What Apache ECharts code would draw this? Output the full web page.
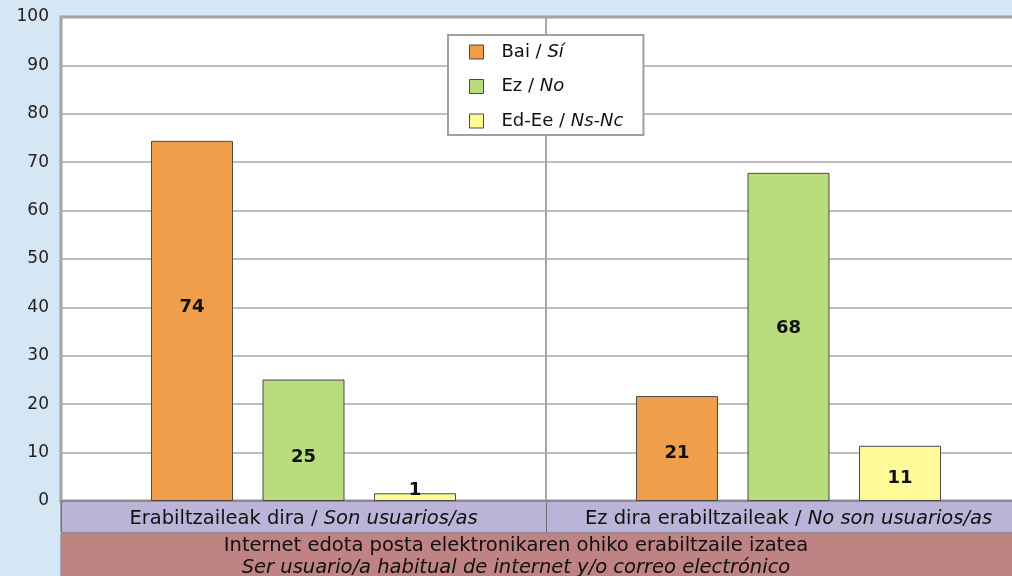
<!DOCTYPE html>
<html>
<head>
    <meta charset="utf-8">
    <title>ECharts</title>
    <script src="https://cdn.jsdelivr.net/npm/echarts@6/dist/echarts.min.js"></script>
    <style>
        body { margin: 0; background: #d5e6f5; }
    </style>
</head>
<body>
    <div id="main" style="width: 1012px;height:576px;"></div>
    <script type="text/javascript">
        // datos
        var catEu = ['Erabiltzaileak dira / ', 'Ez dira erabiltzaileak / '];
        var catEs = ['Son usuarios/as', 'No son usuarios/as'];
        var groupEu = 'Internet edota posta elektronikaren ohiko erabiltzaile izatea';
        var groupEs = 'Ser usuario/a habitual de internet y/o correo electrónico';
        var seriesEu = ['Bai / ', 'Ez / ', 'Ed-Ee / '];
        var seriesEs = ['Sí', 'No', 'Ns-Nc'];
        var baiValues = [74.4, 21.7];
        var ezValues = [25.1, 67.8];
        var edValues = [1.6, 11.4];
        var baiLabels = [74, 21];
        var ezLabels = [25, 68];
        var edLabels = [1, 11];
        var yTicks = [0, 100, 10];

        var colors = ['#f09e4a', '#b8dc7e', '#fffb99'];
        var font = 'DejaVu Sans, Arial, sans-serif';
        // las etiquetas no van centradas del todo en el original
        var nudge = [[-14, 5], [17, -9], [-7, 5]];

        var myChart = echarts.init(document.getElementById('main'));

        function barSeries(i, values, labels) {
            return {
                name: seriesEu[i] + seriesEs[i],
                type: 'bar',
                xAxisIndex: 0,
                yAxisIndex: 0,
                barWidth: 82,
                barGap: '36%',
                data: values.map(function (v, k) {
                    return { value: v, label: { offset: [0, nudge[i][k]] } };
                }),
                itemStyle: { color: colors[i], borderColor: '#4a4a4a', borderWidth: 1 },
                label: {
                    show: true,
                    position: 'inside',
                    color: '#111',
                    fontWeight: 'bold',
                    fontSize: 18,
                    fontFamily: font,
                    formatter: function (p) { return labels[p.dataIndex]; }
                }
            };
        }

        var option = {
            backgroundColor: '#d5e6f5',
            animation: false,
            legend: {
                orient: 'vertical',
                left: 448,
                top: 35,
                padding: [8, 20, 5, 21],
                itemGap: 16.5,
                itemWidth: 14,
                itemHeight: 14,
                icon: 'rect',
                backgroundColor: '#fff',
                borderColor: '#a0a0a0',
                borderWidth: 2,
                borderRadius: 0,
                data: seriesEu.map(function (s, i) {
                    return { name: s + seriesEs[i], itemStyle: { borderColor: '#4a4a4a', borderWidth: 1 } };
                }),
                formatter: function (name) {
                    var i = seriesEu.findIndex(function (s, k) { return s + seriesEs[k] === name; });
                    return '{n|' + seriesEu[i] + '}{i|' + seriesEs[i] + '}';
                },
                textStyle: {
                    padding: [0, 0, 0, 13],
                    rich: {
                        n: { fontSize: 18, fontFamily: font, color: '#111' },
                        i: { fontSize: 18, fontFamily: font, fontStyle: 'italic', color: '#111' }
                    }
                }
            },
            grid: [
                { left: 61, top: 17, width: 970, height: 484, outerBoundsMode: 'none', show: true, backgroundColor: '#fff', borderColor: '#9a9a9a', borderWidth: 3 },
                { left: 61, top: 502, width: 970, height: 30, outerBoundsMode: 'none', show: true, borderColor: '#6e6e6e', borderWidth: 1 },
                { left: 61, top: 533, width: 970, height: 44, outerBoundsMode: 'none', show: true, borderColor: '#6e6e6e', borderWidth: 1 }
            ],
            xAxis: [
                {
                    gridIndex: 0,
                    type: 'category',
                    data: catEu,
                    axisLine: { lineStyle: { color: '#8a8a8a', width: 2 } },
                    axisTick: { show: false },
                    axisLabel: { show: false },
                    splitLine: { show: true, lineStyle: { color: '#a8a8a8', width: 2 } }
                },
                {
                    gridIndex: 1,
                    type: 'category',
                    data: catEu,
                    axisLine: { show: false },
                    axisTick: { show: false },
                    splitArea: { show: true, areaStyle: { color: ['#bcb4d8'] } },
                    splitLine: { show: true, lineStyle: { color: '#6e6e6e', width: 1 } },
                    axisLabel: {
                        inside: true,
                        margin: 3,
                        formatter: function (v, idx) { return '{n|' + v + '}{i|' + catEs[idx] + '}'; },
                        rich: {
                            n: { fontSize: 19.5, fontFamily: font, color: '#111' },
                            i: { fontSize: 19.5, fontFamily: font, fontStyle: 'italic', color: '#111' }
                        }
                    }
                },
                {
                    gridIndex: 2,
                    type: 'category',
                    data: [groupEu],
                    axisLine: { show: false },
                    axisTick: { show: false },
                    splitArea: { show: true, areaStyle: { color: ['#bf8383'] } },
                    axisLabel: {
                        inside: true,
                        margin: -2,
                        lineHeight: 22,
                        padding: [0, 60, 0, 0],
                        formatter: function (v) { return '{n|' + v + '}\n{i|' + groupEs + '}'; },
                        rich: {
                            n: { fontSize: 19.5, fontFamily: font, color: '#111', lineHeight: 22 },
                            i: { fontSize: 19.5, fontFamily: font, fontStyle: 'italic', color: '#111', lineHeight: 22 }
                        }
                    }
                }
            ],
            yAxis: [
                {
                    gridIndex: 0,
                    type: 'value',
                    min: yTicks[0],
                    max: yTicks[1],
                    interval: yTicks[2],
                    axisLine: { show: false },
                    axisTick: { show: false },
                    axisLabel: { color: '#222', fontSize: 17, fontFamily: font, margin: 12 },
                    splitLine: { lineStyle: { color: '#a8a8a8', width: 1.5 } }
                },
                { gridIndex: 1, type: 'value', show: false },
                { gridIndex: 2, type: 'value', show: false }
            ],
            series: [
                barSeries(0, baiValues, baiLabels),
                barSeries(1, ezValues, ezLabels),
                barSeries(2, edValues, edLabels)
            ]
        };

        myChart.setOption(option);
    </script>
</body>
</html>
